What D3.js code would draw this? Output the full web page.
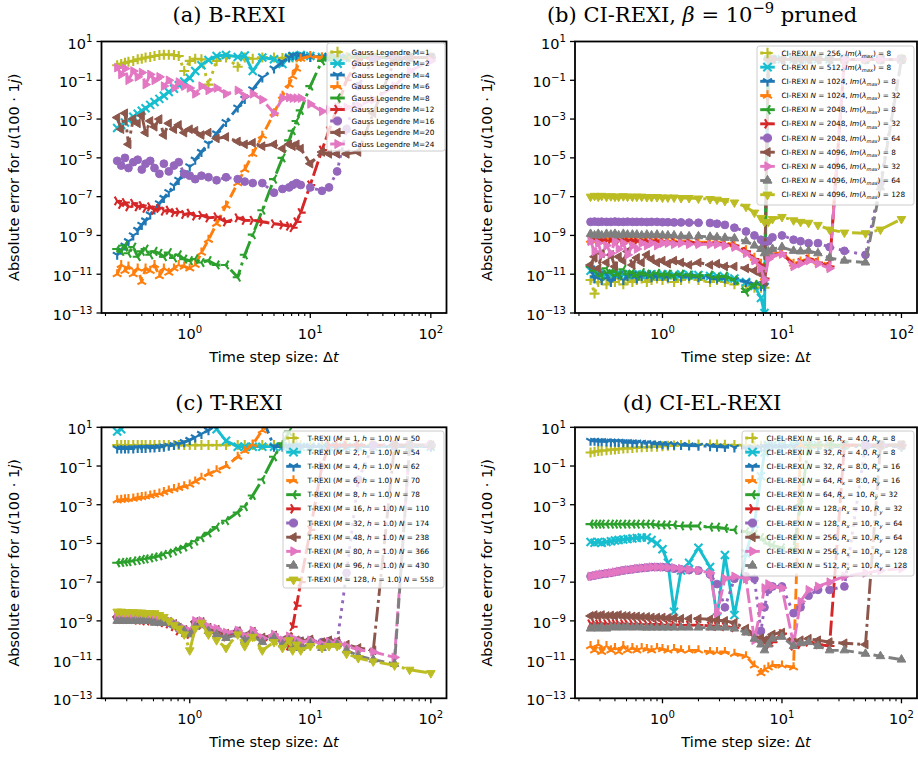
<!DOCTYPE html>
<html><head><meta charset="utf-8">
<script src="https://cdn.jsdelivr.net/npm/d3@7"></script>
<style>body{margin:0;background:#fff}</style>
</head><body>
<svg id="c" width="918" height="765" xmlns="http://www.w3.org/2000/svg"></svg>
<script>
// ---------- DATA ----------
const dtValues = [0.25,0.27,0.29,0.31,0.34,0.37,0.4,0.43,0.47,0.51,0.56,0.61,0.67,0.74,0.81,0.9,1.0,1.11,1.25,1.43,1.67,2.0,2.5,2.86,3.33,4.0,5.0,5.88,6.67,7.14,7.69,8.33,10,12.5,14.3,16.7,20,25,33.3,50,66.7,100];

const xTickLabels = ["0","1","2"];
const yTickExps = [1,-1,-3,-5,-7,-9,-11,-13];

// (a) B-REXI
const gaussM = [1,2,4,6,8,12,16,20,24];
const bRexiErr = [
 [0.6,0.7,0.8,0.9,1.0,1.2,1.3,1.5,1.6,1.8,2.0,2.1,2.1,2.0,1.8,0.3,1.0,1.3,1.2,0.06,1.0,1.5,0.5,1.5,1.3,1.5,1.5,1.4,1.6,1.5,1.5,1.6,1.6,1.5,1.6,1.5,1.6,1.5,1.5,1.6,1.5,1.5],
 [3.5e-4,5e-4,6.7e-4,9e-4,1.3e-3,1.9e-3,2.7e-3,3.6e-3,5.4e-3,7.6e-3,1.1e-2,1.6e-2,2.5e-2,3.7e-2,5.5e-2,8.7e-2,0.13,0.3,0.6,1.1,1.8,2.0,1.6,1.9,0.3,1.5,1.2,0.7,1.5,1.8,1.8,2.0,1.8,1.6,1.5,1.5,1.5,1.6,1.5,1.5,1.5,1.5],
 [1e-10,1.8e-10,3e-10,5e-10,1e-9,1.9e-9,3.5e-9,5.9e-9,1.2e-8,2.2e-8,4.5e-8,8.5e-8,1.7e-7,3.7e-7,7.3e-7,1.6e-6,3.6e-6,8e-6,2e-5,5.5e-5,1.8e-4,7e-4,3.9e-3,1.1e-2,3.4e-2,0.14,0.4,0.9,1.5,2.0,1.8,2.0,1.6,1.5,1.8,1.5,1.6,1.5,1.5,1.6,1.5,1.5],
 [1e-11,3e-11,1.5e-11,2.5e-11,1e-11,2e-11,4e-12,2e-11,1.5e-11,3e-11,8e-12,2e-11,1.2e-11,2e-11,3e-11,2.5e-11,2e-11,3e-11,1.3e-10,6e-10,4e-9,3.5e-8,5e-7,2.5e-6,1.6e-5,1.4e-4,2e-3,1.6e-2,6e-2,0.16,0.4,1.3,1.8,1.5,1.6,1.5,1.5,1.6,1.5,1.5,1.5,1.5],
 [2e-10,1.5e-10,3e-10,1.2e-10,2.5e-10,8e-11,1.5e-10,2e-10,1e-10,1.5e-10,1.2e-10,8e-11,1.3e-10,7e-11,1e-10,6e-11,5e-11,6e-11,4e-11,5e-11,3e-11,3e-11,7e-12,1e-10,1.1e-9,2e-8,8e-7,1e-5,8e-5,2.5e-4,8e-4,2.8e-3,5e-2,1.0,1.5,1.5,1.5,1.6,1.5,1.5,1.5,1.5],
 [6e-8,4e-8,5e-8,3e-8,4.5e-8,3e-8,3.5e-8,2.5e-8,3e-8,2e-8,2.5e-8,1.8e-8,2e-8,1.5e-8,1.6e-8,1.2e-8,1.4e-8,1e-8,1.1e-8,8e-9,9e-9,5e-9,8e-9,6e-9,6e-9,5e-9,4e-9,3.5e-9,3e-9,2.5e-9,5e-9,1.5e-8,4e-7,2.5e-5,2.5e-4,4e-3,0.1,1.2,1.5,1.5,1.5,1.5],
 [7e-6,4e-6,1e-5,3e-6,6e-6,8e-6,2.5e-6,5e-6,7e-6,3e-6,1.5e-6,5e-6,2e-6,4e-6,6e-6,1.5e-6,1.2e-6,8e-7,1.2e-6,1e-6,7e-7,1e-6,8e-7,6e-7,5e-7,5e-7,1.6e-7,2.5e-7,3e-7,4e-7,5e-7,4e-7,3e-7,2e-7,3e-7,2e-6,3e-4,0.05,1.2,1.5,1.5,1.5],
 [1.2e-3,3e-4,2e-3,5e-5,1e-3,6e-4,1.5e-3,2e-4,8e-4,4e-4,1e-3,1.5e-4,6e-4,3e-4,5e-4,2e-4,3e-4,2.5e-4,1.5e-4,2e-4,1e-4,1.2e-4,7e-5,5e-5,6e-5,4e-5,5e-5,3e-5,5e-5,4e-5,5e-5,3e-5,5e-6,2e-5,1.6e-5,1.6e-5,1.6e-5,2e-5,2e-3,1.0,1.5,1.5],
 [0.45,0.2,0.4,0.1,0.3,0.15,0.25,0.06,0.2,0.1,0.15,0.05,0.1,0.04,0.08,0.05,0.04,0.02,0.05,0.03,0.04,0.02,0.03,0.015,0.02,0.01,2e-3,0.012,0.013,0.012,0.012,0.012,6e-3,2.5e-3,3e-3,4e-3,4e-3,5e-3,0.01,0.05,0.3,1.0]
];

// (b) CI-REXI
const ciN = [256,512,1024,1024,2048,2048,2048,4096,4096,4096,4096];
const ciIm = [8,8,8,32,8,32,64,8,32,64,128];
const ciRexiErr = [
 [5e-12,1e-12,4e-12,6e-12,3e-12,5e-12,4e-12,6e-12,3e-12,5e-12,4e-12,5e-12,6e-12,4e-12,5e-12,6e-12,5e-12,6e-12,4e-12,5e-12,6e-12,5e-12,4e-12,5e-12,4e-12,3e-12,2.5e-12,2e-12,2e-12,2e-12,1.2,1.2,1.2,1.2,1.2,1.2,1.2,1.2,1.2,1.2,1.2,1.2],
 [1.5e-11,1e-11,1.2e-11,9e-12,1.1e-11,1e-11,9e-12,1.1e-11,1e-11,9e-12,1e-11,1e-11,9e-12,1e-11,1e-11,9e-12,1e-11,1e-11,9e-12,1e-11,9e-12,9e-12,8e-12,8e-12,7e-12,6e-12,4e-12,2.5e-12,6e-13,1e-13,1.2,1.2,1.2,1.2,1.2,1.2,1.2,1.2,1.2,1.2,1.2,1.2],
 [2e-11,6e-12,1e-11,5e-12,1e-11,4e-12,8e-12,1e-11,5e-12,8e-12,1e-11,6e-12,8e-12,1e-11,7e-12,8e-12,8e-12,7e-12,8e-12,7e-12,8e-12,7e-12,6e-12,6e-12,6e-12,5e-12,4e-12,3e-12,2.5e-12,2.5e-12,1.2,1.2,1.2,1.2,1.2,1.2,1.2,1.2,1.2,1.2,1.2,1.2],
 [6e-10,6.5e-10,6e-10,6.5e-10,6e-10,6.5e-10,6e-10,6e-10,6.5e-10,6e-10,6e-10,5.5e-10,6e-10,5.5e-10,5.5e-10,5.5e-10,5.5e-10,5e-10,5e-10,5e-10,5e-10,4.5e-10,4.5e-10,4.5e-10,4e-10,3.5e-10,1.7e-10,7e-11,3.5e-11,7e-12,8e-11,1.1e-10,1.3e-10,3.5e-11,4.5e-11,7e-11,4.5e-11,3e-11,1.2,1.2,1.2,1.2],
 [2.5e-11,1.5e-11,2e-11,8e-12,2e-11,1.2e-11,1.5e-11,9e-12,1.8e-11,1e-11,1.3e-11,8e-12,1.2e-11,1e-11,9e-12,1.1e-11,9e-12,1e-11,8e-12,1e-11,9e-12,8e-12,9e-12,7e-12,8e-12,5e-12,1.2e-12,3e-12,3e-12,4e-12,1.2,1.2,1.2,1.2,1.2,1.2,1.2,1.2,1.2,1.2,1.2,1.2],
 [5.5e-10,6e-10,5.5e-10,6e-10,5.5e-10,6e-10,5.5e-10,5.5e-10,6e-10,5.5e-10,5.5e-10,5e-10,5.5e-10,5e-10,5e-10,5e-10,5e-10,4.5e-10,4.5e-10,4.5e-10,4.5e-10,4e-10,4e-10,4e-10,3.5e-10,3e-10,1.5e-10,6e-11,3e-11,6e-12,7e-11,1e-10,1.2e-10,3e-11,4e-11,6e-11,4e-11,2.5e-11,1.2,1.2,1.2,1.2],
 [5e-9,5.2e-9,5e-9,5.1e-9,5e-9,5e-9,5.2e-9,5e-9,5e-9,5.1e-9,5e-9,5e-9,5e-9,4.9e-9,5e-9,5e-9,4.8e-9,4.8e-9,4.7e-9,4.7e-9,4.6e-9,4.5e-9,4.4e-9,4e-9,3.5e-9,2.5e-9,1.6e-9,1e-9,6e-10,4e-10,5e-10,8e-10,1e-9,6e-10,5e-10,4e-10,4e-10,2.5e-10,1.6e-10,1e-10,5e-7,1.2],
 [3e-11,8e-11,2e-11,1.2e-10,4e-11,1e-10,2.5e-11,8e-11,5e-11,1.5e-10,3e-11,7e-11,4e-11,1e-10,6e-11,4e-11,5e-11,3.5e-11,5e-11,4e-11,3e-11,4e-11,3e-11,3.5e-11,2.5e-11,2.5e-11,2e-11,1.5e-11,1e-11,4e-12,1.2,1.2,1.2,1.2,1.2,1.2,1.2,1.2,1.2,1.2,1.2,1.2],
 [5e-10,1.5e-10,4e-10,1e-10,3e-10,1.2e-10,5e-10,2e-10,4e-10,1e-10,3e-10,2e-10,4e-10,3e-10,4e-10,3e-10,4e-10,4e-10,3.5e-10,4e-10,3.5e-10,3.5e-10,3.5e-10,3.5e-10,3e-10,2.5e-10,1.2e-10,5e-11,2e-11,5e-12,6e-11,9e-11,1.1e-10,2.5e-11,3.5e-11,5e-11,3.5e-11,2e-11,1.2,1.2,1.2,1.2],
 [1.2e-9,1e-9,1.2e-9,1e-9,1.2e-9,1.1e-9,1.2e-9,1e-9,1.2e-9,1.1e-9,1.1e-9,1.1e-9,1e-9,1.1e-9,1e-9,1.1e-9,1e-9,1e-9,1e-9,9e-10,9e-10,9e-10,8.5e-10,8e-10,7.5e-10,7e-10,5e-10,3e-10,2e-10,1.2e-10,1.5e-10,2e-10,2.5e-10,1.6e-10,1.5e-10,1.6e-10,1.2e-10,7e-11,5e-11,4e-11,3e-7,1.2],
 [1e-7,1.1e-7,1e-7,1.1e-7,1e-7,1.05e-7,1e-7,1e-7,1.05e-7,1e-7,1e-7,1e-7,1e-7,9.5e-8,9.5e-8,9.5e-8,9e-8,9e-8,9e-8,8.5e-8,8.5e-8,8e-8,7.5e-8,7e-8,6e-8,5e-8,3e-8,1.5e-8,8e-9,5e-9,5e-9,7e-9,9e-9,6e-9,5e-9,4.5e-9,3.5e-9,2e-9,1.4e-9,1.3e-9,2e-9,7e-9]
];

// (c) T-REXI
const tM = [1,2,4,6,8,16,32,48,80,96,128];
const tN = [50,54,62,70,78,110,174,238,366,430,558];
const tRexiErr = [
 [1.2,1.2,1.2,1.2,1.2,1.2,1.2,1.2,1.2,1.2,1.2,1.2,1.2,1.2,1.2,1.2,1.2,1.2,1.2,1.2,1.2,1.2,1.2,1.2,1.2,1.2,1.2,1.2,1.2,1.2,1.2,1.2,1.2,1.2,1.2,1.2,1.2,1.2,1.2,1.2,1.2,1.2],
 [6,8,20,40,40,40,40,40,40,40,40,40,40,40,40,40,40,40,40,40,8,2,1.0,1.0,1.0,1.0,1.0,1.0,1.0,1.0,1.0,1.0,1.0,1.0,1.0,1.0,1.0,1.0,1.0,1.0,1.0,1.0],
 [0.8,0.8,0.8,0.8,0.8,0.85,0.85,0.85,0.9,0.9,0.95,1.0,1.1,1.2,1.4,1.7,2.2,3,4.5,7,15,30,30,30,30,30,1.0,1.0,1.0,1.0,1.0,1.0,1.0,1.0,1.0,1.0,1.0,1.0,1.0,1.0,1.0,1.0],
 [1.7e-3,1.8e-3,1.9e-3,2e-3,2.1e-3,2.3e-3,2.5e-3,2.7e-3,3e-3,3.3e-3,3.8e-3,4.5e-3,5.5e-3,6.5e-3,7.5e-3,9e-3,1.1e-2,1.6e-2,2.5e-2,4e-2,6e-2,0.1,0.3,0.6,1.3,7,30,30,30,30,30,30,30,30,30,30,30,30,30,30,30,30],
 [1e-6,1.05e-6,1.1e-6,1.15e-6,1.25e-6,1.35e-6,1.5e-6,1.6e-6,1.8e-6,2e-6,2.3e-6,2.7e-6,3.2e-6,4e-6,5e-6,6.5e-6,9e-6,1.3e-5,2e-5,3.5e-5,7e-5,1.5e-4,4e-4,8e-4,3e-3,2e-2,0.3,1.5,6,30,30,30,30,30,30,30,30,30,30,30,30,30],
 [1.2e-9,1.2e-9,1.2e-9,1.2e-9,1.2e-9,1.1e-9,1.1e-9,1e-9,1e-9,1e-9,9e-10,8e-10,7e-10,5e-10,3e-10,2.5e-10,2e-10,5e-10,6e-10,3e-10,2e-10,1.5e-10,2.5e-10,1.2e-10,2e-10,1e-10,1.5e-10,8e-11,5e-11,5e-10,6e-9,1e-7,5e-5,0.1,1.2,1.2,1.2,1.2,1.2,1.2,1.2,1.2],
 [1.5e-9,1.5e-9,1.4e-9,1.4e-9,1.4e-9,1.3e-9,1.3e-9,1.2e-9,1.2e-9,1.1e-9,1e-9,9e-10,8e-10,6e-10,4e-10,3e-10,2.5e-10,8e-10,8e-10,4e-10,3e-10,2e-10,3e-10,1.5e-10,2.5e-10,1.2e-10,1.6e-10,9e-11,1.3e-10,8e-11,9e-11,9e-11,1e-10,8e-11,9e-11,8e-11,3e-7,0.02,1.2,1.2,1.2,1.2],
 [1.6e-9,1.6e-9,1.5e-9,1.5e-9,1.5e-9,1.4e-9,1.4e-9,1.3e-9,1.3e-9,1.2e-9,1.1e-9,1e-9,9e-10,7e-10,4.5e-10,3.5e-10,2.5e-10,9e-10,9e-10,4.5e-10,3.5e-10,2.2e-10,3e-10,1.6e-10,2.8e-10,1.4e-10,1.8e-10,1e-10,1.5e-10,7e-11,1e-10,9e-11,1.1e-10,8e-11,1e-10,9e-11,6e-11,4e-11,3e-11,1.2,1.2,1.2],
 [2e-9,2e-9,2e-9,2e-9,2e-9,2e-9,2e-9,1.6e-9,1.6e-9,1.6e-9,1.6e-9,1.3e-9,1e-9,8e-10,5e-10,4e-10,3e-10,1e-9,1e-9,5e-10,4e-10,2.5e-10,3.2e-10,1.6e-10,3.2e-10,1.3e-10,2e-10,1e-10,1.6e-10,6.3e-11,1e-10,8e-11,1e-10,6.3e-11,8e-11,8e-11,5e-11,3.2e-11,2.5e-11,1.3e-11,1.2,1.2],
 [1e-9,1e-9,1e-9,1e-9,1e-9,1e-9,1e-9,1e-9,1e-9,8e-10,8e-10,8e-10,8e-10,6e-10,5e-10,3e-10,2e-10,5e-10,6e-10,3e-10,2e-10,1.3e-10,2e-10,1e-10,1.6e-10,8e-11,1.3e-10,6e-11,1e-10,4e-11,6e-11,4e-11,7e-11,4e-11,6e-11,6e-11,3e-11,1.6e-11,1e-11,6e-12,1.2,1.2],
 [3e-9,3e-9,2.8e-9,2.8e-9,2.8e-9,2.7e-9,2.7e-9,2.5e-9,2.5e-9,2.5e-9,2e-9,1.6e-9,1e-9,6e-10,4e-10,2e-10,3e-11,4e-10,8e-10,2e-10,1e-10,4e-11,2e-10,5e-11,1.5e-10,3e-11,8e-11,4e-11,1e-10,3e-11,6e-11,3e-11,5e-11,4e-11,5e-11,5e-11,2e-11,1.2e-11,8e-12,5e-12,3e-12,2e-12]
];

// (d) CI-EL-REXI
const elN = [16,32,32,64,64,128,128,256,256,512];
const elRx = ["4.0","4.0","8.0","8.0","10","10","10","10","10","10"];
const elRy = [8,8,16,16,32,32,64,64,128,128];
const ciElRexiErr = [
 [0.5,0.55,0.6,0.62,0.65,0.7,0.72,0.75,0.8,0.82,0.85,0.9,0.92,0.95,1.0,1.0,1.05,1.1,1.15,1.2,1.25,1.3,1.3,1.3,1.25,1.2,1.2,1.1,1.1,1.1,1.1,1.1,1.1,1.1,1.1,1.1,1.1,1.1,1.1,1.1,1.1,1.1],
 [1.2e-5,1.1e-5,1.2e-5,1.1e-5,1.2e-5,1.3e-5,1.4e-5,1.5e-5,1.6e-5,1.7e-5,1.8e-5,1.9e-5,2e-5,2e-5,1.5e-5,1e-5,5e-6,1e-6,3e-9,4e-7,1e-6,6e-6,6e-7,1.5e-9,2.5e-6,2e-9,3e-6,1e-4,3e-2,0.5,1.2,1.2,1.2,1.2,1.2,1.2,1.2,1.2,1.2,1.2,1.2,1.2],
 [2.0,2.0,1.9,1.9,1.85,1.8,1.8,1.75,1.7,1.7,1.65,1.6,1.55,1.5,1.45,1.4,1.35,1.3,1.25,1.2,1.15,1.1,1.05,1.0,0.95,0.9,0.85,0.85,0.9,1.0,1.0,1.0,1.0,1.0,1.0,1.0,1.0,1.0,1.0,1.0,1.0,1.0],
 [5e-11,3e-11,6e-11,2.5e-11,5e-11,3e-11,4e-11,2.5e-11,5e-11,3e-11,4e-11,3e-11,4e-11,3.5e-11,3e-11,4e-11,3.5e-11,3e-11,3.5e-11,3e-11,3e-11,3e-11,2.5e-11,2.5e-11,2.5e-11,2e-11,1.5e-11,5e-12,2e-12,3e-12,4e-12,5e-12,5e-12,4e-12,1.2,1.2,1.2,1.2,1.2,1.2,1.2,1.2],
 [1e-4,1e-4,1e-4,1e-4,1e-4,1e-4,1e-4,1e-4,1e-4,1e-4,1e-4,1e-4,1e-4,1e-4,1e-4,9e-5,9e-5,9e-5,9e-5,8e-5,8e-5,8e-5,7e-5,7e-5,6e-5,5e-5,4e-5,3e-5,2e-5,1.5e-5,1e-5,8e-6,6e-6,5e-6,1e-3,1.2,1.2,1.2,1.2,1.2,1.2,1.2],
 [7e-10,7e-10,7e-10,7e-10,7e-10,7e-10,7e-10,7e-10,7e-10,6.8e-10,6.8e-10,6.8e-10,6.6e-10,6.6e-10,6.5e-10,6.5e-10,6.3e-10,6.2e-10,6.2e-10,6e-10,6e-10,6e-10,5.5e-10,5.2e-10,5e-10,4.5e-10,3e-10,1.5e-10,1e-10,8e-11,5e-11,8e-11,2.2e-10,5e-11,6e-11,8e-11,6e-11,5e-11,1.2,1.2,1.2,1.2],
 [2e-7,2.2e-7,2.4e-7,2.6e-7,2.8e-7,3e-7,3.3e-7,3.6e-7,4e-7,4.3e-7,4.6e-7,5e-7,5.3e-7,5.6e-7,6e-7,6e-7,6e-7,5.5e-7,5e-7,4.6e-7,4.2e-7,4e-7,2.5e-7,8e-8,5e-9,1.5e-7,2e-7,1.5e-7,3e-10,5e-9,4e-8,6e-8,6e-8,2.5e-9,5e-9,2e-8,4e-8,4e-8,6e-8,1.2,1.2,1.2],
 [1.8e-9,2e-9,1.8e-9,2e-9,1.8e-9,1.9e-9,1.8e-9,2e-9,1.8e-9,1.8e-9,1.7e-9,1.7e-9,1.6e-9,1.6e-9,1.5e-9,1.5e-9,1.5e-9,1.4e-9,1.4e-9,1.3e-9,1.3e-9,1.3e-9,1.2e-9,1.1e-9,1e-9,8e-10,4e-10,2e-10,1.3e-10,1e-10,1.2e-10,2e-10,2.5e-10,8e-11,1e-10,1.2e-10,1e-10,8e-11,7e-11,6e-11,1.2,1.2],
 [2e-7,2.2e-7,2.4e-7,2.6e-7,2.8e-7,3e-7,3.3e-7,3.6e-7,4e-7,4.3e-7,4.6e-7,5e-7,5.3e-7,5.6e-7,6e-7,6e-7,6e-7,5.8e-7,5.5e-7,5e-7,4.5e-7,4e-7,3e-7,2.5e-9,1.5e-7,2e-7,1.5e-7,1e-10,5e-9,5e-8,8e-8,6e-8,5e-8,6e-11,1e-8,4e-8,6e-8,1e-7,2e-7,3e-7,4e-7,5e-7],
 [4e-10,5e-10,4e-10,5e-10,4e-10,5e-10,4.5e-10,5e-10,4.5e-10,5e-10,4.5e-10,5e-10,4.5e-10,4.5e-10,4.5e-10,4.5e-10,4.5e-10,4.5e-10,4.5e-10,4.5e-10,4.5e-10,4.5e-10,4.5e-10,4.5e-10,4.5e-10,4e-10,2.5e-10,1.2e-10,6e-11,3e-11,6e-11,1.2e-10,1.5e-10,5e-11,7e-11,8e-11,5e-11,3e-11,3e-11,2e-11,1.5e-11,1e-11]
];

// ---------- STYLE ----------
const colors = ["#bcbd22","#17becf","#1f77b4","#ff7f0e","#2ca02c","#d62728","#9467bd","#8c564b","#e377c2","#7f7f7f","#bcbd22"];
const markerTypes = ["plus","cross","tri_down","tri_up","tri_left","tri_right","circle","tri_l","tri_r","tri_u","tri_d"];
const dashes = ["3,4.8",null,"18,4.6,3,4.6","10.7,4.6","18,4.6,3,4.6","15,4","3,4.8","15,4,3,4","15,4","10.7,4.6","18,4.6,3,4.6"];
const FONT = "DejaVu Sans";

// ---------- LABEL TOKENS ----------
const labelsA = gaussM.map(m => [{t:"Gauss Legendre M="+m}]);
const labelsB = ciN.map((n,i) => [{t:"CI-REXI "},{t:"N",i:1},{t:" = "+n+", "},{t:"Im",i:1},{t:"("},{t:"λ",i:1},{t:"max",i:1,sub:1},{t:") = "+ciIm[i]}]);
const labelsC = tM.map((m,i) => [{t:"T-REXI ("},{t:"M",i:1},{t:" = "+m+", "},{t:"h",i:1},{t:" = 1.0) "},{t:"N",i:1},{t:" = "+tN[i]}]);
const labelsD = elN.map((n,i) => [{t:"CI-EL-REXI "},{t:"N",i:1},{t:" = "+n+", "},{t:"R",i:1},{t:"x",i:1,sub:1},{t:" = "+elRx[i]+", "},{t:"R",i:1},{t:"y",i:1,sub:1},{t:" = "+elRy[i]}]);

const panels = [
 {id:"a", x0:101.5, x1:446.5, y0:313, y1:41.5, data:bRexiErr,
  title:[{t:"(a) B-REXI"}], tx:229, ty:22,
  leg:{x:327,y:43,w:118,h:108,row0:52,dy:11.5,labels:labelsA}},
 {id:"b", x0:575, x1:917, y0:313, y1:41.5, data:ciRexiErr,
  title:[{t:"(b) CI-REXI, "},{t:"β",i:1},{t:" = 10"},{t:"−9",sup:1},{t:" pruned"}], tx:702, ty:22,
  leg:{x:757,y:46,w:157,h:159,row0:53,dy:14.17,labels:labelsB}},
 {id:"c", x0:101.5, x1:446.5, y0:698.3, y1:427.3, data:tRexiErr,
  title:[{t:"(c) T-REXI"}], tx:229, ty:410,
  leg:{x:283,y:431,w:161,h:157,row0:438,dy:14.17,labels:labelsC}},
 {id:"d", x0:575, x1:917, y0:698.3, y1:427.3, data:ciElRexiErr,
  title:[{t:"(d) CI-EL-REXI"}], tx:702, ty:410,
  leg:{x:742,y:431,w:172,h:145,row0:438,dy:14.17,labels:labelsD}}
];

// ---------- HELPERS ----------
const svg = d3.select("#c");
function markerPath(type, s){
  const c=0.866*s, h=0.5*s;
  switch(type){
    case "plus": return `M${-s},0H${s}M0,${-s}V${s}`;
    case "cross": {const a=s*0.8; return `M${-a},${-a}L${a},${a}M${-a},${a}L${a},${-a}`;}
    case "tri_down": return `M0,0V${s}M0,0L${-c},${-h}M0,0L${c},${-h}`;
    case "tri_up": return `M0,0V${-s}M0,0L${-c},${h}M0,0L${c},${h}`;
    case "tri_left": return `M0,0H${-s}M0,0L${h},${-c}M0,0L${h},${c}`;
    case "tri_right": return `M0,0H${s}M0,0L${-h},${-c}M0,0L${-h},${c}`;
    case "circle": {const r=s*0.78; return `M${r},0A${r},${r} 0 1,1 ${-r},0A${r},${r} 0 1,1 ${r},0Z`;}
    case "tri_l": return `M${-s},0L${h},${-c}L${h},${c}Z`;
    case "tri_r": return `M${s},0L${-h},${-c}L${-h},${c}Z`;
    case "tri_u": return `M0,${-s}L${c},${h}L${-c},${h}Z`;
    case "tri_d": return `M0,${s}L${c},${-h}L${-c},${-h}Z`;
  }
}
const filled = t => ["circle","tri_l","tri_r","tri_u","tri_d"].includes(t);
function drawMarker(g, type, color, x, y, s){
  const p = g.append("path").attr("d", markerPath(type, s)).attr("transform",`translate(${x},${y})`);
  if (filled(type)) p.attr("fill",color).attr("stroke",color).attr("stroke-width",1);
  else p.attr("fill","none").attr("stroke",color).attr("stroke-width",2.1);
}
function tokens(textSel, toks, size){
  let shift = 0;
  toks.forEach(tk => {
    const ts = textSel.append("tspan").text(tk.t);
    if (tk.i) ts.attr("font-style","italic");
    let target = 0;
    if (tk.sub) { target = size*0.3; ts.attr("font-size", size*0.7); }
    if (tk.sup) { target = -size*0.42; ts.attr("font-size", size*0.7); }
    if (target !== shift) { ts.attr("dy", target - shift); shift = target; }
  });
}

// ---------- DRAW ----------
panels.forEach(P => {
  const x = d3.scaleLog().domain([0.1853, 134.9]).range([P.x0, P.x1]);
  const y = d3.scaleLog().domain([1e-13, 1e1]).range([P.y0, P.y1]);
  const g = svg.append("g");
  const clipId = "clip-"+P.id;
  svg.append("clipPath").attr("id",clipId).append("rect")
    .attr("x",P.x0).attr("y",P.y1).attr("width",P.x1-P.x0).attr("height",P.y0-P.y1);
  const plot = g.append("g").attr("clip-path",`url(#${clipId})`);
  const line = d3.line().defined(d=>d[1]!=null).x(d=>x(d[0])).y(d=>y(Math.max(d[1],1e-16)));

  P.data.forEach((vals,k) => {
    const pts = dtValues.map((t,i)=>[t, vals[i]]);
    const sg = plot.append("g");
    const path = sg.append("path").datum(pts).attr("d", line)
      .attr("fill","none").attr("stroke",colors[k]).attr("stroke-width",2.9)
      .attr("stroke-linejoin","round");
    if (dashes[k]) path.attr("stroke-dasharray", dashes[k]);
    pts.forEach(d => { if (d[1]!=null) drawMarker(sg, markerTypes[k], colors[k], x(d[0]), y(d[1]), 5); });
  });

  // spines
  g.append("rect").attr("x",P.x0).attr("y",P.y1).attr("width",P.x1-P.x0).attr("height",P.y0-P.y1)
    .attr("fill","none").attr("stroke","#000").attr("stroke-width",1.8);

  // x ticks
  const majors = [1,10,100];
  const minors = [];
  [0.1,1,10,100].forEach(dec => { for (let m=2;m<=9;m++){ const v=dec*m; if (v>=0.1853 && v<=134.9) minors.push(v);} });
  minors.forEach(v => g.append("line").attr("x1",x(v)).attr("x2",x(v)).attr("y1",P.y0).attr("y2",P.y0+3)
    .attr("stroke","#000").attr("stroke-width",1.1));
  majors.forEach((v,i) => {
    g.append("line").attr("x1",x(v)).attr("x2",x(v)).attr("y1",P.y0).attr("y2",P.y0+5)
      .attr("stroke","#000").attr("stroke-width",1.3);
    const t = g.append("text").attr("x",x(v)).attr("y",P.y0+26).attr("text-anchor","middle")
      .attr("font-family",FONT).attr("font-size",14.5).attr("fill","#000");
    tokens(t, [{t:"10"},{t:xTickLabels[i],sup:1}], 14.5);
  });
  // y ticks
  yTickExps.forEach(e => {
    const v = Math.pow(10,e);
    g.append("line").attr("x1",P.x0-5).attr("x2",P.x0).attr("y1",y(v)).attr("y2",y(v))
      .attr("stroke","#000").attr("stroke-width",1.3);
    const t = g.append("text").attr("x",P.x0-9).attr("y",y(v)+7).attr("text-anchor","end")
      .attr("font-family",FONT).attr("font-size",14.5).attr("fill","#000");
    tokens(t, [{t:"10"},{t:(e<0?"−":"")+Math.abs(e),sup:1}], 14.5);
  });
  // axis labels
  const xl = g.append("text").attr("x",(P.x0+P.x1)/2).attr("y",P.y0+49)
    .attr("text-anchor","middle").attr("font-family",FONT).attr("font-size",14.5);
  tokens(xl, [{t:"Time step size: Δ"},{t:"t",i:1}], 14.5);
  const cy = (P.y0+P.y1)/2, cx = P.x0-83;
  const yl = g.append("text").attr("transform",`translate(${cx},${cy}) rotate(-90)`)
    .attr("text-anchor","middle").attr("font-family",FONT).attr("font-size",14.5);
  tokens(yl, [{t:"Absolute error for "},{t:"u",i:1},{t:"(100 · 1"},{t:"j",i:1},{t:")"}], 14.5);

  // title
  const tt = g.append("text").attr("x",P.tx).attr("y",P.ty).attr("text-anchor","middle")
    .attr("font-family","DejaVu Serif").attr("font-size",21);
  tokens(tt, P.title, 21);

  // legend
  const L = P.leg;
  const lg = g.append("g");
  lg.append("rect").attr("x",L.x).attr("y",L.y).attr("width",L.w).attr("height",L.h).attr("rx",2.5)
    .attr("fill","rgba(255,255,255,0.8)").attr("stroke","#cccccc").attr("stroke-width",1);
  L.labels.forEach((lab,k) => {
    const ry = L.row0 + k*L.dy;
    const mx = L.x + 10.5;
    const hl = lg.append("line").attr("x1",mx-7.3).attr("x2",mx+7.3).attr("y1",ry).attr("y2",ry)
      .attr("stroke",colors[k]).attr("stroke-width",2.9);
    if (dashes[k]) hl.attr("stroke-dasharray", dashes[k]);
    drawMarker(lg, markerTypes[k], colors[k], mx, ry, 5.2);
    const t = lg.append("text").attr("x",mx+14).attr("y",ry+2.6)
      .attr("font-family",FONT).attr("font-size",7.3).attr("fill","#000");
    tokens(t, lab, 7.3);
  });
});
</script>
</body></html>
